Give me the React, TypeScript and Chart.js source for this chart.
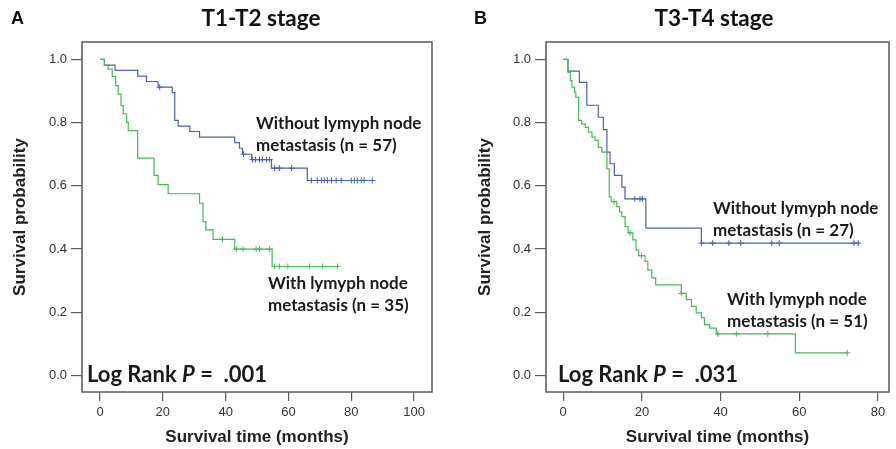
import React, { useEffect, useRef } from "react";
import { Chart, registerables } from "chart.js";
Chart.register(...registerables);

// ---------------- Data ----------------
const yTicks = [0, 0.2, 0.4, 0.6, 0.8, 1.0];
const xTicksA = [0, 20, 40, 60, 80, 100];
const xTicksB = [0, 20, 40, 60, 80];

const panelLetters = ["A", "B"];
const panelTitles = ["T1-T2 stage", "T3-T4 stage"];
const xAxisTitle = "Survival time (months)";
const yAxisTitle = "Survival probability";
const pValues = [".001", ".031"];

// Panel A (T1-T2), without lymph node metastasis (n = 57)
const aNoMetTimes = [0, 1.4, 4.8, 12.0, 14.8, 18.5, 23.0, 23.8, 24.9, 28.6, 31.7, 42.9, 44.4, 45.4, 48.3, 54.6, 66.0];
const aNoMetSurv = [1.0, 0.982, 0.965, 0.947, 0.93, 0.912, 0.895, 0.807, 0.789, 0.772, 0.754, 0.737, 0.719, 0.70, 0.683, 0.656, 0.617];
const aNoMetLast = 87.3;
const aNoMetCensored = [19.0, 45.7, 48.6, 49.5, 50.8, 51.7, 53.0, 54.0, 55.6, 57.1, 61.0, 67.3, 69.2, 70.5, 71.4, 72.4, 73.7, 75.2, 76.8, 80.0, 81.0, 81.9, 83.2, 84.1, 86.7];
const aNoMetLabel = ["Without lymyph node", "metastasis (n = 57)"];

// Panel A (T1-T2), with lymph node metastasis (n = 35)
const aMetTimes = [0, 1.4, 2.6, 3.9, 5.0, 5.8, 6.7, 7.4, 8.5, 9.0, 12.0, 17.2, 18.5, 21.7, 31.7, 32.8, 33.7, 36.0, 42.9, 54.8];
const aMetSurv = [1.0, 0.982, 0.969, 0.946, 0.917, 0.89, 0.854, 0.828, 0.801, 0.775, 0.688, 0.633, 0.604, 0.575, 0.545, 0.487, 0.461, 0.431, 0.40, 0.345];
const aMetLast = 76.2;
const aMetCensored = [39.0, 43.4, 45.5, 49.7, 50.8, 54.0, 55.6, 57.1, 59.8, 66.7, 70.9, 75.6];
const aMetLabel = ["With lymyph node", "metastasis (n = 35)"];

// Panel B (T3-T4), without lymph node metastasis (n = 27)
const bNoMetTimes = [0, 1.2, 4.1, 6.0, 8.9, 10.2, 11.1, 11.9, 13.0, 14.9, 15.7, 21.0, 35.1];
const bNoMetSurv = [1.0, 0.963, 0.927, 0.855, 0.817, 0.778, 0.707, 0.67, 0.633, 0.596, 0.559, 0.466, 0.419];
const bNoMetLast = 75.2;
const bNoMetCensored = [18.2, 19.5, 20.1, 35.1, 38.0, 42.1, 45.1, 53.0, 54.9, 73.9, 75.0];
const bNoMetLabel = ["Without lymyph node", "metastasis (n = 27)"];

// Panel B (T3-T4), with lymph node metastasis (n = 51)
const bMetTimes = [0, 1.2, 1.8, 2.2, 2.9, 3.2, 3.9, 4.7, 5.6, 6.4, 7.3, 8.1, 8.9, 9.8, 11.1, 11.7, 12.2, 13.6, 14.3, 14.9, 15.7, 16.5, 17.7, 18.5, 19.2, 20.8, 21.5, 22.5, 23.5, 30.0, 31.3, 32.6, 33.8, 35.1, 35.9, 37.2, 38.9, 59.0];
const bMetSurv = [1.0, 0.959, 0.933, 0.912, 0.896, 0.88, 0.807, 0.796, 0.785, 0.77, 0.754, 0.744, 0.722, 0.707, 0.654, 0.565, 0.55, 0.534, 0.518, 0.503, 0.471, 0.451, 0.429, 0.397, 0.379, 0.361, 0.334, 0.309, 0.287, 0.26, 0.24, 0.219, 0.198, 0.183, 0.161, 0.15, 0.132, 0.072];
const bMetLast = 72.2;
const bMetCensored = [12.9, 17.0, 19.9, 30.0, 39.3, 44.0, 52.0, 72.2];
const bMetLabel = ["With lymyph node", "metastasis (n = 51)"];

// ---------------- Styles ----------------
const BLUE = "#4c5fb3";
const GREEN = "#46ba58";
const FRAME = "#5a5a5a";
const SANS = "'Liberation Sans', Arial, sans-serif";
const LABEL_FONT = "Lato, 'Open Sans', sans-serif";

function stepPoints(times: number[], surv: number[], last: number) {
  const pts = times.map((t, i) => ({ x: t, y: surv[i] }));
  pts.push({ x: last, y: surv[surv.length - 1] });
  return pts;
}

function censorPoints(times: number[], surv: number[], cens: number[]) {
  return cens.map((c) => {
    let s = surv[0];
    for (let i = 0; i < times.length; i++) if (times[i] <= c) s = surv[i];
    return { x: c, y: s };
  });
}

const framePlugin = {
  id: "frame",
  afterDraw(chart: any) {
    const { ctx, chartArea } = chart;
    ctx.save();
    ctx.strokeStyle = FRAME;
    ctx.lineWidth = 1.5;
    ctx.strokeRect(chartArea.left, chartArea.top, chartArea.right - chartArea.left, chartArea.bottom - chartArea.top);
    ctx.restore();
  },
};

type Seg = { text: string; italic?: boolean };
type TextItem = { segs: Seg[]; x: number; y: number; size: number; family: string; align?: "left" | "center"; color?: string };

const textPlugin = {
  id: "panelText",
  afterDraw(chart: any, _args: any, opts: any) {
    const items: TextItem[] = opts.items || [];
    const ctx = chart.ctx;
    ctx.save();
    ctx.textBaseline = "middle";
    ctx.textAlign = "left";
    for (const it of items) {
      const fontFor = (s: Seg) => `${s.italic ? "italic " : ""}bold ${it.size}px ${it.family}`;
      let total = 0;
      for (const s of it.segs) {
        ctx.font = fontFor(s);
        total += ctx.measureText(s.text).width;
      }
      let x = it.align === "center" ? it.x - total / 2 : it.x;
      ctx.fillStyle = it.color || "#1a1a1a";
      for (const s of it.segs) {
        ctx.font = fontFor(s);
        ctx.fillText(s.text, x, it.y);
        x += ctx.measureText(s.text).width;
      }
    }
    ctx.restore();
  },
};

type PanelSpec = {
  xMin: number;
  xMax: number;
  xTicks: number[];
  yAxisWidth: number;
  yTitlePad: number;
  padRight: number;
  noMet: { times: number[]; surv: number[]; last: number; cens: number[] };
  met: { times: number[]; surv: number[]; last: number; cens: number[] };
  items: TextItem[];
};

function buildConfig(p: PanelSpec): any {
  const lineDs = (d: any, color: string) => ({
    data: stepPoints(d.times, d.surv, d.last),
    borderColor: color,
    borderWidth: 1.2,
    stepped: "before",
    pointRadius: 0,
    fill: false,
  });
  const censDs = (d: any, color: string) => ({
    data: censorPoints(d.times, d.surv, d.cens),
    showLine: false,
    pointStyle: "cross",
    pointRadius: 3,
    borderColor: color,
    backgroundColor: color,
    pointBorderWidth: 1,
  });
  return {
    type: "line",
    data: {
      datasets: [lineDs(p.met, GREEN), censDs(p.met, GREEN), lineDs(p.noMet, BLUE), censDs(p.noMet, BLUE)],
    },
    options: {
      responsive: false,
      animation: false,
      devicePixelRatio: 1,
      layout: { padding: { left: 0, top: 42, right: p.padRight, bottom: 0 } },
      plugins: {
        legend: { display: false },
        tooltip: { enabled: false },
        title: { display: false },
        panelText: { items: p.items },
      },
      scales: {
        x: {
          type: "linear",
          min: p.xMin,
          max: p.xMax,
          afterBuildTicks: (s: any) => {
            s.ticks = p.xTicks.map((v) => ({ value: v }));
          },
          afterFit: (s: any) => {
            s.height = 57;
          },
          border: { display: false },
          grid: { drawOnChartArea: false, drawTicks: true, tickLength: 9, color: FRAME, lineWidth: 1.2 },
          ticks: { padding: 4, color: "#333", font: { family: SANS, size: 13 }, callback: (v: any) => String(v) },
          title: {
            display: true,
            text: xAxisTitle,
            color: "#222",
            font: { family: SANS, size: 17, weight: "bold" },
            padding: { top: 0, bottom: 1 },
          },
        },
        y: {
          type: "linear",
          min: -0.052,
          max: 1.055,
          afterBuildTicks: (s: any) => {
            s.ticks = yTicks.map((v) => ({ value: v }));
          },
          afterFit: (s: any) => {
            s.width = p.yAxisWidth;
          },
          border: { display: false },
          grid: { drawOnChartArea: false, drawTicks: true, tickLength: 11, color: FRAME, lineWidth: 1.2 },
          ticks: { padding: 4, color: "#333", font: { family: SANS, size: 13 }, callback: (v: any) => Number(v).toFixed(1) },
          title: {
            display: true,
            text: yAxisTitle,
            color: "#222",
            font: { family: SANS, size: 17, weight: "bold" },
            padding: { top: p.yTitlePad, bottom: 0 },
          },
        },
      },
    },
    plugins: [framePlugin, textPlugin],
  };
}

function annotations(idx: number, noMetLabel: string[], metLabel: string[], pos: any): TextItem[] {
  return [
    { segs: [{ text: panelLetters[idx] }], x: pos.letterX, y: 19, size: 18, family: SANS, color: "#111" },
    { segs: [{ text: panelTitles[idx] }], x: pos.titleX, y: 19, size: 22.5, family: LABEL_FONT, align: "center", color: "#111" },
    { segs: [{ text: noMetLabel[0] }], x: pos.noMetX, y: pos.noMetY, size: 17, family: LABEL_FONT },
    { segs: [{ text: noMetLabel[1] }], x: pos.noMetX, y: pos.noMetY + 22, size: 17, family: LABEL_FONT },
    { segs: [{ text: metLabel[0] }], x: pos.metX, y: pos.metY, size: 17, family: LABEL_FONT },
    { segs: [{ text: metLabel[1] }], x: pos.metX, y: pos.metY + 22, size: 17, family: LABEL_FONT },
    {
      segs: [{ text: "Log Rank " }, { text: "P", italic: true }, { text: " =  " + pValues[idx] }],
      x: pos.logX,
      y: 375,
      size: 22,
      family: LABEL_FONT,
    },
  ];
}

const panelA: PanelSpec = {
  xMin: -5.73,
  xMax: 105.7,
  xTicks: xTicksA,
  yAxisWidth: 82,
  yTitlePad: 9.8,
  padRight: 16,
  noMet: { times: aNoMetTimes, surv: aNoMetSurv, last: aNoMetLast, cens: aNoMetCensored },
  met: { times: aMetTimes, surv: aMetSurv, last: aMetLast, cens: aMetCensored },
  items: annotations(0, aNoMetLabel, aMetLabel, {
    letterX: 11, titleX: 261, noMetX: 256, noMetY: 124, metX: 268, metY: 284, logX: 87,
  }),
};

const panelB: PanelSpec = {
  xMin: -4.38,
  xMax: 82.8,
  xTicks: xTicksB,
  yAxisWidth: 98,
  yTitlePad: 26.8,
  padRight: 7,
  noMet: { times: bNoMetTimes, surv: bNoMetSurv, last: bNoMetLast, cens: bNoMetCensored },
  met: { times: bMetTimes, surv: bMetSurv, last: bMetLast, cens: bMetCensored },
  items: annotations(1, bNoMetLabel, bMetLabel, {
    letterX: 26, titleX: 266, noMetX: 265, noMetY: 209, metX: 279, metY: 300, logX: 110,
  }),
};

function Panel({ spec, left }: { spec: PanelSpec; left: number }) {
  const ref = useRef<HTMLCanvasElement | null>(null);
  useEffect(() => {
    if (!ref.current) return;
    const chart = new Chart(ref.current, buildConfig(spec));
    return () => chart.destroy();
  }, [spec]);
  return (
    <canvas
      ref={ref}
      width={448}
      height={449}
      style={{ position: "absolute", left, top: 0, width: 448, height: 449, display: "block" }}
    />
  );
}

export default function App() {
  return (
    <div style={{ position: "absolute", left: 0, top: 0, width: 896, height: 449, background: "#fff" }}>
      <Panel spec={panelA} left={0} />
      <Panel spec={panelB} left={448} />
    </div>
  );
}
